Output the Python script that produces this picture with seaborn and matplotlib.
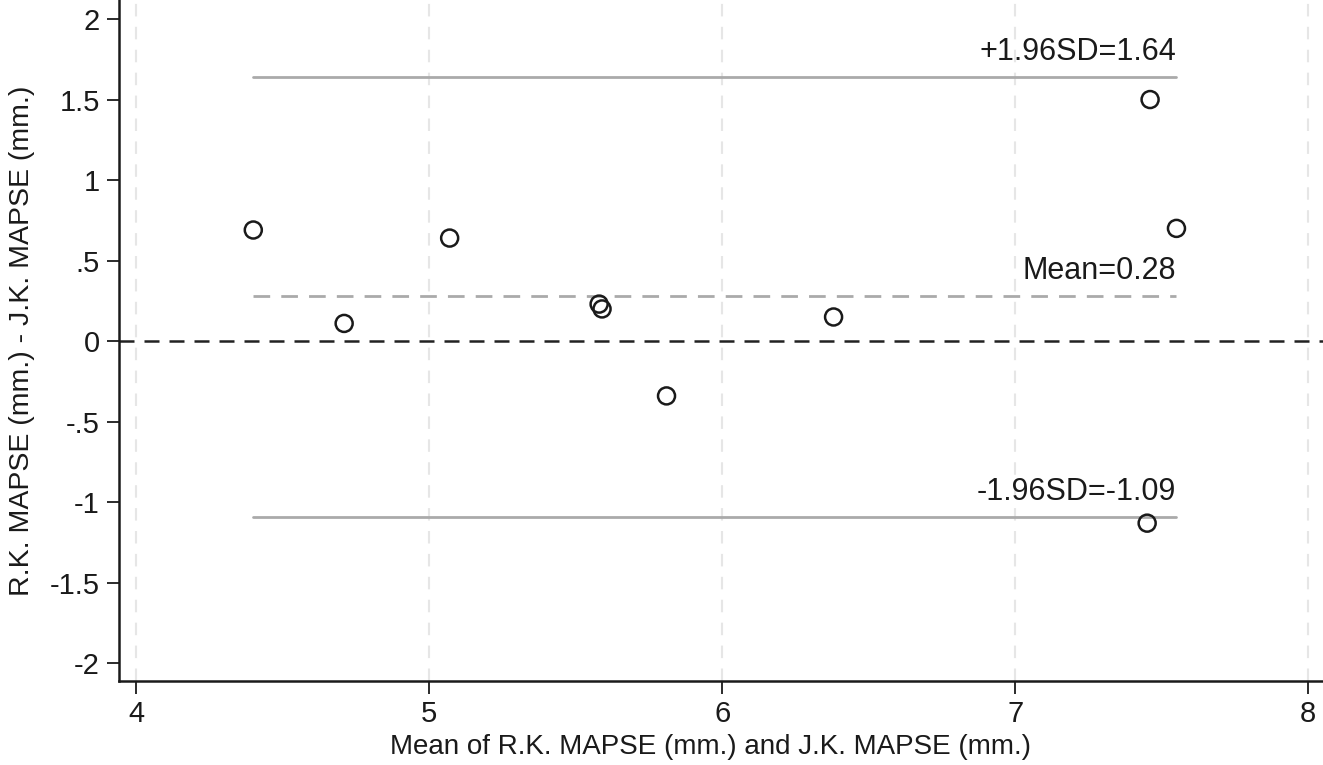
import matplotlib
matplotlib.use("Agg")
import matplotlib.pyplot as plt
import numpy as np
import pandas as pd
import seaborn as sns

# Bland-Altman data
mean_vals = [4.40, 4.71, 5.07, 5.58, 5.59, 5.81, 6.38, 7.46, 7.55, 7.45]
diff_vals = [0.69, 0.11, 0.64, 0.23, 0.20, -0.34, 0.15, 1.50, 0.70, -1.13]
mean_diff = 0.28
upper_loa = 1.64
lower_loa = -1.09
x_ticks = [4, 5, 6, 7, 8]
y_ticks = [-2, -1.5, -1, -0.5, 0, 0.5, 1, 1.5, 2]
y_ticklabels = ["-2", "-1.5", "-1", "-.5", "0", ".5", "1", "1.5", "2"]

df = pd.DataFrame({"mean": mean_vals, "diff": diff_vals})

sns.set_style("white")
plt.rcParams["font.family"] = ["Liberation Sans", "DejaVu Sans"]

fig = plt.figure(figsize=(13.23, 7.65), dpi=100)
ax = fig.add_axes([0.09, 0.1098, 0.91, 0.8902])

for xt in x_ticks:
    ax.axvline(xt, color="#e6e6e6", lw=1.5, ls=(0, (6, 5)), zorder=0)

ax.axhline(0, color="#222222", lw=1.8, ls=(0, (6, 4)), zorder=1)

x0, x1 = min(mean_vals), max(mean_vals)
ax.plot([x0, x1], [upper_loa, upper_loa], color="#aaaaaa", lw=2, zorder=1)
ax.plot([x0, x1], [lower_loa, lower_loa], color="#aaaaaa", lw=2, zorder=1)
ax.plot([x0, x1], [mean_diff, mean_diff], color="#aaaaaa", lw=2,
        ls=(0, (6, 4)), zorder=1)

sns.scatterplot(data=df, x="mean", y="diff", ax=ax, marker="o", s=150,
                facecolor="none", edgecolor="#1a1a1a", linewidth=1.8, zorder=3)

fs = 22
ax.text(x1, upper_loa + 0.06, f"+1.96SD={upper_loa:.2f}", ha="right",
        va="bottom", fontsize=fs, color="#1a1a1a")
ax.text(x1, mean_diff + 0.06, f"Mean={mean_diff:.2f}", ha="right",
        va="bottom", fontsize=fs, color="#1a1a1a")
ax.text(x1, lower_loa + 0.06, f"-1.96SD={lower_loa:.2f}", ha="right",
        va="bottom", fontsize=fs, color="#1a1a1a")

ax.set_xlim(3.942, 8.05)
ax.set_ylim(-2.11, 2.118)
ax.set_xticks(x_ticks)
ax.set_yticks(y_ticks)
ax.set_yticklabels(y_ticklabels)
ax.tick_params(axis="both", direction="out", length=9, width=1.3,
               labelsize=21, colors="#1a1a1a", bottom=True, left=True, pad=5)

sns.despine(ax=ax, top=True, right=True)
for side in ["left", "bottom"]:
    ax.spines[side].set_color("#1a1a1a")
    ax.spines[side].set_linewidth(1.8)

ax.set_xlabel("Mean of R.K. MAPSE (mm.) and J.K. MAPSE (mm.)", fontsize=20,
              color="#1a1a1a")
ax.set_ylabel("R.K. MAPSE (mm.) - J.K. MAPSE (mm.)", fontsize=20.5,
              color="#1a1a1a")
ax.xaxis.set_label_coords(0.491, -0.078)
ax.yaxis.set_label_coords(-0.070, 0.5)

fig.savefig("out.png", dpi=100)
